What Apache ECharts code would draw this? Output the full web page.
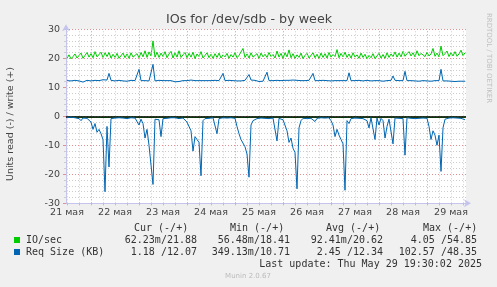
<!DOCTYPE html>
<html><head><meta charset="utf-8">
<script src="https://cdn.jsdelivr.net/npm/echarts@6/dist/echarts.min.js"></script>
<style>html,body{margin:0;padding:0;background:#f0f0f0}#c{width:497px;height:287px}</style>
</head><body><div id="c"></div>
<script>
// hourly samples, first at 21 May 12:00 (hours counted from 21 May 00:00)
const firstHour = 12;
const dayLabels = ['21 мая','22 мая','23 мая','24 мая','25 мая','26 мая','27 мая','28 мая','29 мая'];
const yTicks = [-30,-20,-10,0,10,20,30];

const ioWrite = [
20.0,21.2,19.8,20.6,21.5,20.1,20.3,21.8,20.0,21.0,
22.0,20.4,21.6,20.2,22.3,20.5,21.0,22.1,20.3,21.9,
20.6,22.0,20.1,21.4,20.3,21.7,20.0,20.5,21.8,20.2,
21.5,20.0,21.9,20.4,20.1,21.6,20.2,22.0,20.5,22.6,
20.3,22.2,20.8,26.0,20.4,22.1,20.3,21.8,20.6,22.3,
20.2,21.5,22.4,20.1,21.9,20.4,22.6,20.3,21.2,22.0,
20.2,21.7,20.4,22.1,19.9,21.5,20.6,22.3,20.1,21.0,
21.9,20.2,21.4,20.0,21.6,20.3,21.8,20.1,21.2,20.5,
21.7,20.0,21.3,20.4,21.9,20.2,21.0,20.6,23.4,20.3,
21.5,20.1,21.9,20.4,20.2,21.6,20.0,21.8,20.5,21.4,
20.3,22.0,20.6,21.3,20.1,22.5,20.4,21.7,20.0,21.9,
20.5,22.9,20.2,21.6,20.0,21.2,20.3,21.8,19.9,21.0,
21.7,20.1,20.5,21.9,20.2,21.4,20.0,21.8,20.3,21.6,
20.1,22.0,20.4,21.3,20.6,23.0,20.2,21.7,20.5,22.1,
20.3,21.5,20.1,21.9,20.4,21.2,20.0,21.8,20.3,21.4,
19.8,21.0,20.2,21.6,19.9,20.5,21.7,20.1,21.3,20.0,
21.9,20.3,21.5,20.6,22.2,20.4,21.8,20.5,22.4,20.7,
21.6,22.3,20.8,21.9,20.5,22.6,20.9,21.7,22.2,20.6,
22.0,20.8,21.5,23.4,20.7,21.8,20.5,24.2,20.9,21.6,
22.5,20.6,21.9,20.8,22.3,20.7,21.5,22.8,20.9,21.9
];
const ioRead = [
-0.30,-0.28,-0.32,-0.30,-0.29,-0.31,-0.30,-0.35,-0.30,-0.29,
-0.30,-0.31,-0.34,-0.36,-0.33,-0.38,-0.35,-0.37,-0.40,-0.45,
-0.36,-0.42,-0.30,-0.29,-0.30,-0.31,-0.30,-0.29,-0.30,-0.31,
-0.30,-0.29,-0.30,-0.31,-0.30,-0.29,-0.33,-0.30,-0.32,-0.36,
-0.34,-0.38,-0.37,-0.44,-0.31,-0.30,-0.31,-0.35,-0.30,-0.29,
-0.30,-0.31,-0.30,-0.29,-0.30,-0.31,-0.30,-0.29,-0.30,-0.31,
-0.32,-0.31,-0.34,-0.39,-0.35,-0.36,-0.37,-0.43,-0.31,-0.30,
-0.29,-0.30,-0.31,-0.30,-0.29,-0.34,-0.30,-0.29,-0.30,-0.31,
-0.30,-0.29,-0.30,-0.31,-0.30,-0.33,-0.35,-0.36,-0.35,-0.38,
-0.40,-0.44,-0.32,-0.31,-0.30,-0.29,-0.30,-0.31,-0.30,-0.29,
-0.30,-0.31,-0.30,-0.29,-0.30,-0.36,-0.30,-0.29,-0.31,-0.30,
-0.34,-0.37,-0.35,-0.38,-0.40,-0.46,-0.33,-0.31,-0.30,-0.29,
-0.30,-0.31,-0.30,-0.29,-0.31,-0.30,-0.29,-0.30,-0.31,-0.30,
-0.29,-0.30,-0.31,-0.32,-0.36,-0.34,-0.35,-0.37,-0.39,-0.47,
-0.31,-0.32,-0.30,-0.29,-0.30,-0.31,-0.30,-0.29,-0.30,-0.31,
-0.31,-0.33,-0.30,-0.30,-0.36,-0.29,-0.32,-0.30,-0.31,-0.35,
-0.32,-0.30,-0.29,-0.37,-0.30,-0.29,-0.30,-0.31,-0.30,-0.39,
-0.29,-0.30,-0.31,-0.30,-0.29,-0.30,-0.31,-0.30,-0.29,-0.30,
-0.30,-0.32,-0.36,-0.34,-0.35,-0.38,-0.35,-0.42,-0.32,-0.30,
-0.29,-0.30,-0.31,-0.30,-0.29,-0.30,-0.31,-0.30,-0.29,-0.30
];
const reqWrite = [
12.3,12.4,12.2,12.3,12.4,12.3,12.2,12.3,11.8,12.3,
12.4,12.3,12.2,12.3,12.4,12.3,12.3,12.5,12.6,12.4,
12.5,14.8,12.4,12.3,12.2,12.3,12.4,12.3,12.2,12.3,
12.1,12.3,12.4,12.2,12.3,12.3,16.2,12.3,12.4,12.3,
12.2,12.2,12.1,17.9,12.2,12.3,12.4,12.3,12.3,12.2,
12.3,12.2,12.3,12.1,11.9,11.9,12.0,12.3,12.3,12.4,
12.3,12.4,12.5,12.4,12.3,12.4,12.3,12.4,12.3,12.4,
12.3,12.4,12.3,12.3,12.4,12.3,12.3,12.4,14.8,12.3,
12.3,12.4,12.2,12.3,12.3,12.2,12.1,12.2,12.3,12.4,
12.3,14.4,12.5,12.3,12.4,12.2,12.0,12.0,12.1,12.3,
15.2,12.3,12.2,12.3,12.3,12.4,12.2,12.3,12.3,12.4,
12.3,12.4,12.3,12.5,12.6,12.4,12.3,12.3,12.2,12.3,
12.3,12.4,12.3,14.8,12.3,12.2,12.3,12.3,12.4,12.5,
12.3,12.3,12.2,12.3,12.3,12.4,12.3,12.2,12.3,12.2,
12.3,15.0,12.3,12.2,12.3,12.3,12.4,12.3,12.2,12.3,
12.4,12.3,12.2,12.3,12.3,12.2,12.3,12.3,12.1,12.1,
12.3,12.3,12.4,13.9,12.4,12.3,12.3,12.2,12.3,15.5,
12.3,12.2,12.3,12.3,12.2,12.1,12.1,12.2,12.3,12.3,
12.2,12.1,12.1,12.3,12.3,12.2,12.3,16.2,12.2,12.1,
12.2,12.2,12.1,12.1,12.0,12.1,12.1,12.2,12.1,12.1
];
const reqRead = [
-0.4,-0.5,-0.3,-0.6,-0.5,-0.4,-0.8,-1.5,-0.6,-0.5,
-0.7,-0.9,-2.0,-4.5,-2.5,-5.5,-4.5,-6.0,-8.0,-26.0,
-3.5,-17.5,-0.8,-0.7,-0.6,-1.0,-0.5,-0.7,-0.6,-0.5,
-0.8,-0.6,-0.5,-0.7,-0.6,-0.8,-3.0,-1.0,-2.5,-7.5,
-4.5,-10.0,-9.5,-23.5,-1.0,-0.8,-1.2,-7.0,-0.8,-0.5,
-0.7,-0.6,-0.5,-0.7,-0.5,-0.6,-0.8,-0.5,-0.6,-1.0,
-2.0,-1.5,-5.0,-12.0,-7.0,-8.0,-9.0,-20.5,-1.5,-0.8,
-0.6,-0.7,-0.8,-0.5,-0.9,-6.0,-0.8,-0.6,-0.5,-0.7,
-0.6,-0.8,-0.5,-0.6,-0.7,-3.5,-6.0,-8.0,-7.5,-10.5,
-13.0,-21.0,-3.0,-1.5,-1.0,-0.8,-0.7,-0.6,-0.9,-0.7,
-1.0,-0.8,-0.5,-0.6,-0.9,-8.5,-0.7,-0.5,-1.2,-0.9,
-5.0,-9.0,-7.5,-11.0,-12.5,-25.0,-4.0,-1.5,-0.7,-0.6,
-0.8,-0.5,-0.7,-0.6,-1.8,-0.7,-0.6,-0.5,-0.8,-0.6,
-0.7,-0.5,-1.5,-3.0,-7.0,-4.5,-6.5,-8.0,-9.5,-25.5,
-1.5,-2.5,-0.8,-1.0,-0.6,-0.5,-0.7,-0.6,-0.8,-0.7,
-1.5,-4.0,-0.5,-1.0,-8.0,-0.6,-3.0,-0.7,-1.5,-7.5,
-3.5,-1.0,-0.7,-9.5,-0.6,-0.5,-0.7,-0.6,-0.8,-13.4,
-0.5,-0.6,-0.7,-0.5,-0.8,-0.6,-0.7,-0.5,-0.6,-0.8,
-0.7,-3.5,-8.0,-5.0,-6.5,-10.0,-6.5,-19.0,-4.0,-1.0,
-0.7,-0.6,-0.8,-0.5,-0.7,-0.6,-0.5,-0.7,-0.6,-1.2
];

const legendHeader = ['Cur (-/+)','Min (-/+)','Avg (-/+)','Max (-/+)'];
const seriesNames = ['IO/sec','Req Size (KB)'];
const legendIO  = ['62.23m/21.88','56.48m/18.41','92.41m/20.62','4.05 /54.85'];
const legendReq = ['1.18 /12.07','349.13m/10.71','2.45 /12.34','102.57 /48.35'];
const lastUpdate = 'Last update: Thu May 29 19:30:02 2025';

const GREEN = '#00cc00', BLUE = '#0066b3';
const AXIS = '#c4c4ec';
const MINOR = '#cccccc', MAJOR = '#e09090';
const SANS = 'DejaVu Sans', MONO = 'DejaVu Sans Mono';
const xMin = 11.5, xMax = 211.5;

function pairs(arr){ return arr.map((v,i)=>[firstHour+i, v]); }

const vLines = [];
for (let h = 12; h < xMax; h += 6) {
  vLines.push({xAxis: h, lineStyle: {color: (h % 24 === 0) ? MAJOR : MINOR, type: [1,2], width: 1}});
}
const labelVals = dayLabels.map((d,k)=>12+24*k);
const tickVals = []; for (let h=12; h<xMax; h+=6) tickVals.push(h);

const chart = echarts.init(document.getElementById('c'), null, {renderer:'canvas'});

const colRight = [197,290,383,477];
const headLeft = [134,230,326,423];
const graphics = [
  {type:'text', x:249, y:20, style:{text:'IOs for /dev/sdb - by week', font:'12.7px "DejaVu Sans"', fill:'#444', align:'center', verticalAlign:'middle'}},
  {type:'text', x:489, y:58, rotation:-Math.PI/2, style:{text:'RRDTOOL / TOBI OETIKER', font:'7px "DejaVu Sans"', fill:'#c0c0c0', align:'center', verticalAlign:'middle'}},
  {type:'text', x:11, y:124, rotation:Math.PI/2, style:{text:'Units read (-) / write (+)', font:'9.5px "DejaVu Sans"', fill:'#444', align:'center', verticalAlign:'middle'}},
  {type:'rect', shape:{x:14, y:237, width:6, height:6}, style:{fill:GREEN}},
  {type:'rect', shape:{x:14, y:249, width:6, height:6}, style:{fill:BLUE}},
  {type:'text', x:26, y:240, style:{text:seriesNames[0], font:'10px "DejaVu Sans Mono"', fill:'#333', align:'left', verticalAlign:'middle'}},
  {type:'text', x:26, y:252, style:{text:seriesNames[1], font:'10px "DejaVu Sans Mono"', fill:'#333', align:'left', verticalAlign:'middle'}},
  {type:'text', x:482, y:264, style:{text:lastUpdate, font:'10px "DejaVu Sans Mono"', fill:'#333', align:'right', verticalAlign:'middle'}},
  {type:'text', x:248, y:276, style:{text:'Munin 2.0.67', font:'7px "DejaVu Sans"', fill:'#bbbbbb', align:'center', verticalAlign:'middle'}}
];
legendHeader.forEach((t,k)=>graphics.push({type:'text', x:headLeft[k], y:228, style:{text:t, font:'10px "DejaVu Sans Mono"', fill:'#333', align:'left', verticalAlign:'middle'}}));
legendIO.forEach((t,k)=>graphics.push({type:'text', x:colRight[k], y:240, style:{text:t, font:'10px "DejaVu Sans Mono"', fill:'#333', align:'right', verticalAlign:'middle'}}));
legendReq.forEach((t,k)=>graphics.push({type:'text', x:colRight[k], y:252, style:{text:t, font:'10px "DejaVu Sans Mono"', fill:'#333', align:'right', verticalAlign:'middle'}}));

const lineBase = {type:'line', showSymbol:false, symbol:'none', animation:false, silent:true, lineStyle:{width:1}, emphasis:{disabled:true}};

chart.setOption({
  backgroundColor:'#f0f0f0',
  animation:false,
  grid:{left:66, top:29.3, width:400, height:174, show:true, backgroundColor:'#ffffff', borderWidth:0, containLabel:false},
  xAxis:[{
    type:'value', min:xMin, max:xMax,
    splitLine:{show:false},
    axisLine:{show:true, onZero:false, lineStyle:{color:AXIS, width:1}, symbol:['none','arrow'], symbolSize:[6,7], symbolOffset:[0,5]},
    axisTick:{show:true, customValues:tickVals, length:2, lineStyle:{color:'#bbbbbb'}},
    axisLabel:{show:true, customValues:labelVals, formatter:(v)=>dayLabels[Math.round((v-12)/24)], fontFamily:SANS, fontSize:9.5, color:'#444', margin:4}
  }],
  yAxis:[{
    type:'value', min:-30, max:30, interval:2, position:'left',
    splitLine:{show:true, lineStyle:{color:MINOR, type:[1,2], width:1}},
    axisLine:{show:true, onZero:false, lineStyle:{color:AXIS, width:1}, symbol:['none','arrow'], symbolSize:[6,7], symbolOffset:[0,5]},
    axisTick:{show:true, length:2, lineStyle:{color:'#cccccc'}},
    axisLabel:{show:false}
  },{
    type:'value', min:-30, max:30, interval:10, position:'left',
    splitLine:{show:true, lineStyle:{color:MAJOR, type:[1,2], width:1}},
    axisLine:{show:false},
    axisTick:{show:true, length:3, lineStyle:{color:MAJOR}},
    axisLabel:{show:true, fontFamily:SANS, fontSize:9.5, color:'#444', margin:6}
  }],
  series:[
    Object.assign({}, lineBase, {name:'grid', data:[], z:1,
      markLine:{silent:true, symbol:['none','none'], label:{show:false}, animation:false, emphasis:{disabled:true}, data:vLines}}),
    Object.assign({}, lineBase, {name:'IO/sec read', data:pairs(ioRead), z:3, lineStyle:{width:1, color:GREEN}, itemStyle:{color:GREEN}}),
    Object.assign({}, lineBase, {name:'IO/sec write', data:pairs(ioWrite), z:3, lineStyle:{width:1, color:GREEN}, itemStyle:{color:GREEN}}),
    Object.assign({}, lineBase, {name:'zero', data:[], z:4,
      markLine:{silent:true, symbol:['none','none'], label:{show:false}, animation:false, emphasis:{disabled:true}, data:[{yAxis:0, lineStyle:{color:'#000000', type:'solid', width:1.5}}]}}),
    Object.assign({}, lineBase, {name:'Req read', data:pairs(reqRead), z:5, lineStyle:{width:1, color:BLUE}, itemStyle:{color:BLUE}}),
    Object.assign({}, lineBase, {name:'Req write', data:pairs(reqWrite), z:5, lineStyle:{width:1, color:BLUE}, itemStyle:{color:BLUE}})
  ],
  graphic:graphics
});
</script></body></html>
